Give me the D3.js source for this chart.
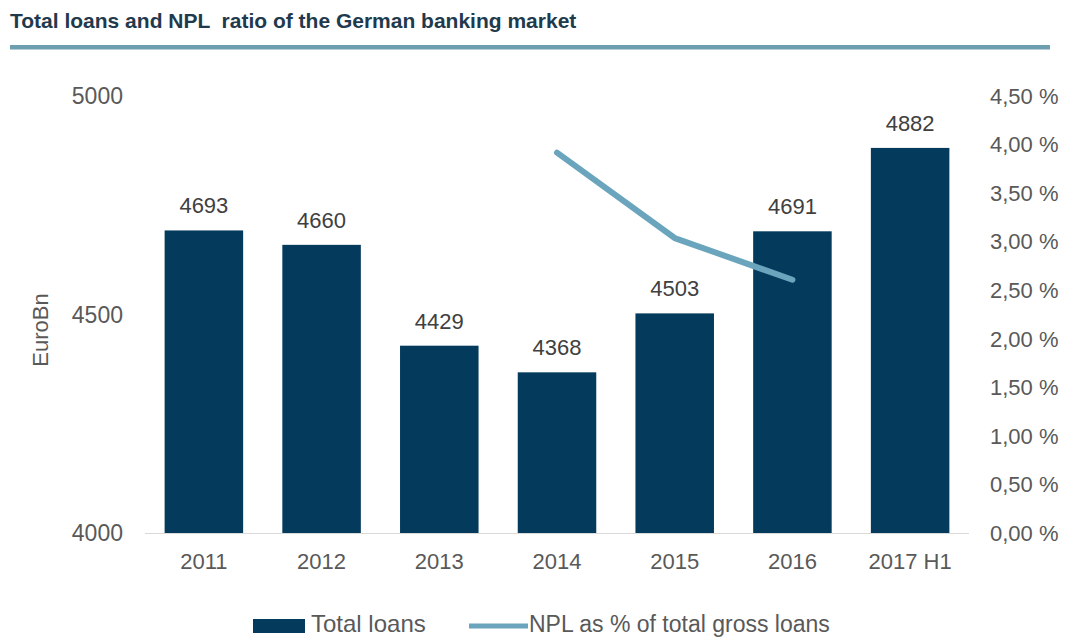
<!DOCTYPE html>
<html>
<head>
<meta charset="utf-8">
<script src="https://cdn.jsdelivr.net/npm/d3@7"></script>
<style>
  html, body { margin: 0; padding: 0; background: #ffffff; }
  svg { display: block; font-family: "Liberation Sans", Arial, sans-serif; }
</style>
</head>
<body>
<svg id="chart" width="1070" height="638"></svg>
<script>
// Total loans (EuroBn) per period
const categories = ["2011", "2012", "2013", "2014", "2015", "2016", "2017 H1"];
const totalLoans = [4693, 4660, 4429, 4368, 4503, 4691, 4882];

// NPL ratio (% of total gross loans), available for 2014-2016
const nplYears = ["2014", "2015", "2016"];
const nplRatio = [3.92, 3.04, 2.61];

// Axis ticks
const leftTicks = [4000, 4500, 5000];
const rightTicks = [0, 0.5, 1, 1.5, 2, 2.5, 3, 3.5, 4, 4.5];

const title = "Total loans and NPL  ratio of the German banking market";
const yTitle = "EuroBn";
const legendLabels = ["Total loans", "NPL as % of total gross loans"];

const barColor = "#043a5c";
const lineColor = "#6aa5bd";
const textColor = "#595959";

const svg = d3.select("#chart");

const plot = { left: 145, right: 969, top: 96.4, bottom: 533 };

const x = d3.scaleBand()
  .domain(categories)
  .range([plot.left, plot.right])
  .paddingInner(0.333)
  .paddingOuter(0.1667);

const yLeft = d3.scaleLinear().domain([4000, 5000]).range([plot.bottom, plot.top]);
const yRight = d3.scaleLinear().domain([0, 4.5]).range([plot.bottom, plot.top]);

// Title and rule beneath it
svg.append("text")
  .attr("x", 10).attr("y", 28)
  .attr("fill", "#1f3a4d")
  .attr("font-size", 21).attr("font-weight", "bold")
  .style("white-space", "pre")
  .text(title);

svg.append("rect")
  .attr("x", 10).attr("y", 45).attr("width", 1040).attr("height", 4.5)
  .attr("fill", "#6e9fb0");

// Bars
svg.append("g").selectAll("rect")
  .data(categories)
  .join("rect")
  .attr("x", d => x(d))
  .attr("width", x.bandwidth())
  .attr("y", (d, i) => yLeft(totalLoans[i]))
  .attr("height", (d, i) => yLeft(4000) - yLeft(totalLoans[i]))
  .attr("fill", barColor);

// Baseline
svg.append("line")
  .attr("x1", plot.left).attr("x2", plot.right)
  .attr("y1", plot.bottom + 0.5).attr("y2", plot.bottom + 0.5)
  .attr("stroke", "#d9d9d9").attr("stroke-width", 1);

// Value labels
svg.append("g").selectAll("text")
  .data(categories)
  .join("text")
  .attr("x", d => x(d) + x.bandwidth() / 2)
  .attr("y", (d, i) => yLeft(totalLoans[i]) - 17)
  .attr("text-anchor", "middle")
  .attr("font-size", 22)
  .attr("fill", "#404040")
  .text((d, i) => totalLoans[i]);

// NPL line
const line = d3.line()
  .x((d, i) => x(nplYears[i]) + x.bandwidth() / 2)
  .y(d => yRight(d));

svg.append("path")
  .datum(nplRatio)
  .attr("d", line)
  .attr("fill", "none")
  .attr("stroke", lineColor)
  .attr("stroke-width", 6)
  .attr("stroke-linecap", "round")
  .attr("stroke-linejoin", "round");

// Axes
function styleAxis(size) {
  return g => {
    g.select(".domain").remove();
    g.selectAll("text")
      .attr("fill", textColor)
      .attr("font-size", size)
      .attr("font-family", "\"Liberation Sans\", Arial, sans-serif");
  };
}

svg.append("g")
  .attr("transform", `translate(${plot.left},0)`)
  .call(d3.axisLeft(yLeft).tickValues(leftTicks).tickSize(0).tickPadding(22).tickFormat(d3.format("d")))
  .call(styleAxis(23));

const pctFormat = d => d.toFixed(2).replace(".", ",") + " %";
svg.append("g")
  .attr("transform", `translate(${plot.right},0)`)
  .call(d3.axisRight(yRight).tickValues(rightTicks).tickSize(0).tickPadding(21).tickFormat(pctFormat))
  .call(styleAxis(22));

svg.append("g")
  .attr("transform", `translate(0,${plot.bottom})`)
  .call(d3.axisBottom(x).tickSize(0).tickPadding(20))
  .call(styleAxis(22));

// Y axis title
svg.append("text")
  .attr("transform", `translate(48,330) rotate(-90)`)
  .attr("text-anchor", "middle")
  .attr("fill", textColor)
  .attr("font-size", 22)
  .text(yTitle);

// Legend
const legend = svg.append("g");
legend.append("rect")
  .attr("x", 253).attr("y", 619).attr("width", 52).attr("height", 14)
  .attr("fill", barColor);
legend.append("text")
  .attr("x", 311).attr("y", 632)
  .attr("fill", textColor).attr("font-size", 24)
  .text(legendLabels[0]);
legend.append("line")
  .attr("x1", 469).attr("x2", 528)
  .attr("y1", 626).attr("y2", 626)
  .attr("stroke", lineColor).attr("stroke-width", 5);
legend.append("text")
  .attr("x", 529).attr("y", 632)
  .attr("fill", textColor).attr("font-size", 23)
  .text(legendLabels[1]);
</script>
</body>
</html>
